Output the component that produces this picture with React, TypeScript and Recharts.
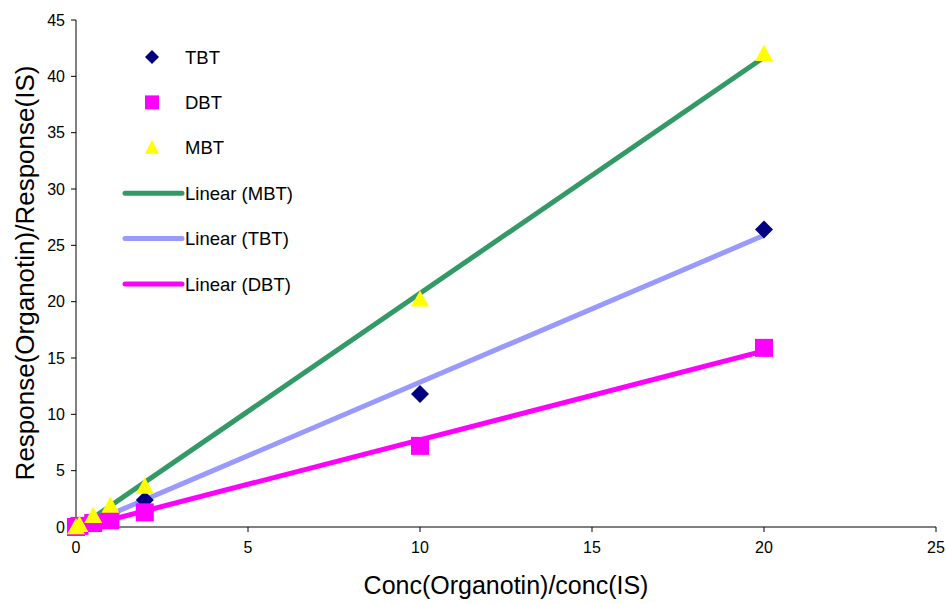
import {
  ComposedChart,
  Scatter,
  Line,
  XAxis,
  YAxis,
} from "recharts";

// concentration ratio of each calibration standard
const conc = [0, 0.1, 0.5, 1, 2, 10, 20];

// response ratios per compound
const tbt = [0, 0.1, 0.6, 1.2, 2.4, 11.8, 26.4];
const dbt = [0, 0.1, 0.35, 0.6, 1.3, 7.2, 15.9];
const mbt = [0, 0.2, 1.0, 1.9, 3.6, 20.2, 42.0];

const xTicks = [0, 5, 10, 15, 20, 25];
const yTicks = [0, 5, 10, 15, 20, 25, 30, 35, 40, 45];

const FONT = "'Liberation Sans', Arial, sans-serif";

const toPoints = (ys: number[]) => conc.map((x, i) => ({ x, y: ys[i] }));

// least-squares trendline over the data range
const fit = (ys: number[]) => {
  const n = conc.length;
  const mx = conc.reduce((a, b) => a + b, 0) / n;
  const my = ys.reduce((a, b) => a + b, 0) / n;
  let sxy = 0;
  let sxx = 0;
  conc.forEach((x, i) => {
    sxy += (x - mx) * (ys[i] - my);
    sxx += (x - mx) * (x - mx);
  });
  const m = sxy / sxx;
  const b = my - m * mx;
  const x0 = Math.min(...conc);
  const x1 = Math.max(...conc);
  return [
    { x: x0, y: m * x0 + b },
    { x: x1, y: m * x1 + b },
  ];
};

const Diamond = (props: any) => {
  const { cx, cy } = props;
  const r = 9;
  return (
    <polygon
      points={`${cx},${cy - r} ${cx + r},${cy} ${cx},${cy + r} ${cx - r},${cy}`}
      fill="#000080"
    />
  );
};

const Square = (props: any) => {
  const { cx, cy } = props;
  const r = 9;
  return <rect x={cx - r} y={cy - r} width={2 * r} height={2 * r} fill="#FF00FF" />;
};

const Triangle = (props: any) => {
  const { cx, cy } = props;
  const r = 9;
  return (
    <polygon
      points={`${cx},${cy - r} ${cx + r},${cy + r * 0.8} ${cx - r},${cy + r * 0.8}`}
      fill="#FFFF00"
    />
  );
};

const legendRows = [
  { label: "TBT", kind: "diamond" },
  { label: "DBT", kind: "square" },
  { label: "MBT", kind: "triangle" },
  { label: "Linear (MBT)", kind: "line", color: "#339966" },
  { label: "Linear (TBT)", kind: "line", color: "#9999FF" },
  { label: "Linear (DBT)", kind: "line", color: "#FF00FF" },
];

const ChartLegend = () => (
  <svg
    width={220}
    height={270}
    style={{ position: "absolute", left: 110, top: 35 }}
  >
    {legendRows.map((row, i) => {
      const cy = 22 + i * 45.4;
      let marker = null;
      if (row.kind === "diamond") {
        marker = (
          <polygon
            points={`42,${cy - 7} 49,${cy} 42,${cy + 7} 35,${cy}`}
            fill="#000080"
          />
        );
      } else if (row.kind === "square") {
        marker = <rect x={35} y={cy - 7} width={14} height={14} fill="#FF00FF" />;
      } else if (row.kind === "triangle") {
        marker = (
          <polygon
            points={`42,${cy - 8} 49,${cy + 6} 35,${cy + 6}`}
            fill="#FFFF00"
          />
        );
      } else {
        marker = (
          <line
            x1={15}
            x2={72}
            y1={cy}
            y2={cy}
            stroke={row.color}
            strokeWidth={5}
            strokeLinecap="round"
          />
        );
      }
      return (
        <g key={row.label}>
          {marker}
          <text
            x={75}
            y={cy}
            dominantBaseline="central"
            fontFamily={FONT}
            fontSize={18.5}
            fill="#000"
          >
            {row.label}
          </text>
        </g>
      );
    })}
  </svg>
);

const App = () => {
  return (
    <div
      style={{
        position: "absolute",
        left: 0,
        top: 0,
        width: 946,
        height: 604,
        background: "#fff",
      }}
    >
      <ComposedChart
        width={946}
        height={604}
        margin={{ top: 20, right: 10, left: 0, bottom: 0 }}
      >
        <XAxis
          type="number"
          dataKey="x"
          domain={[0, 25]}
          ticks={xTicks}
          height={77}
          stroke="#000"
          tickSize={5}
          tickMargin={10}
          tick={{ fill: "#000", fontSize: 16, fontFamily: FONT }}
          label={{
            content: () => (
              <text
                x={506}
                y={594}
                textAnchor="middle"
                fontFamily={FONT}
                fontSize={25}
                fill="#000"
              >
                Conc(Organotin)/conc(IS)
              </text>
            ),
          }}
        />
        <YAxis
          type="number"
          dataKey="y"
          domain={[0, 45]}
          ticks={yTicks}
          width={76}
          stroke="#000"
          tickSize={5}
          tickMargin={6}
          tick={{ fill: "#000", fontSize: 16, fontFamily: FONT }}
          label={{
            content: () => (
              <text
                x={34}
                y={273}
                transform="rotate(-90 34 273)"
                textAnchor="middle"
                fontFamily={FONT}
                fontSize={26}
                fill="#000"
              >
                Response(Organotin)/Response(IS)
              </text>
            ),
          }}
        />
        <YAxis
          yAxisId="fit"
          type="number"
          domain={[0, 45]}
          allowDataOverflow
          hide
        />
        <Scatter data={toPoints(tbt)} shape={Diamond} isAnimationActive={false} />
        <Scatter data={toPoints(dbt)} shape={Square} isAnimationActive={false} />
        <Scatter data={toPoints(mbt)} shape={Triangle} isAnimationActive={false} />
        <Line
          yAxisId="fit"
          data={fit(mbt)}
          dataKey="y"
          stroke="#339966"
          strokeWidth={5}
          dot={false}
          activeDot={false}
          isAnimationActive={false}
        />
        <Line
          yAxisId="fit"
          data={fit(tbt)}
          dataKey="y"
          stroke="#9999FF"
          strokeWidth={5}
          dot={false}
          activeDot={false}
          isAnimationActive={false}
        />
        <Line
          yAxisId="fit"
          data={fit(dbt)}
          dataKey="y"
          stroke="#FF00FF"
          strokeWidth={5}
          dot={false}
          activeDot={false}
          isAnimationActive={false}
        />
      </ComposedChart>
      <ChartLegend />
    </div>
  );
};

export default App;
